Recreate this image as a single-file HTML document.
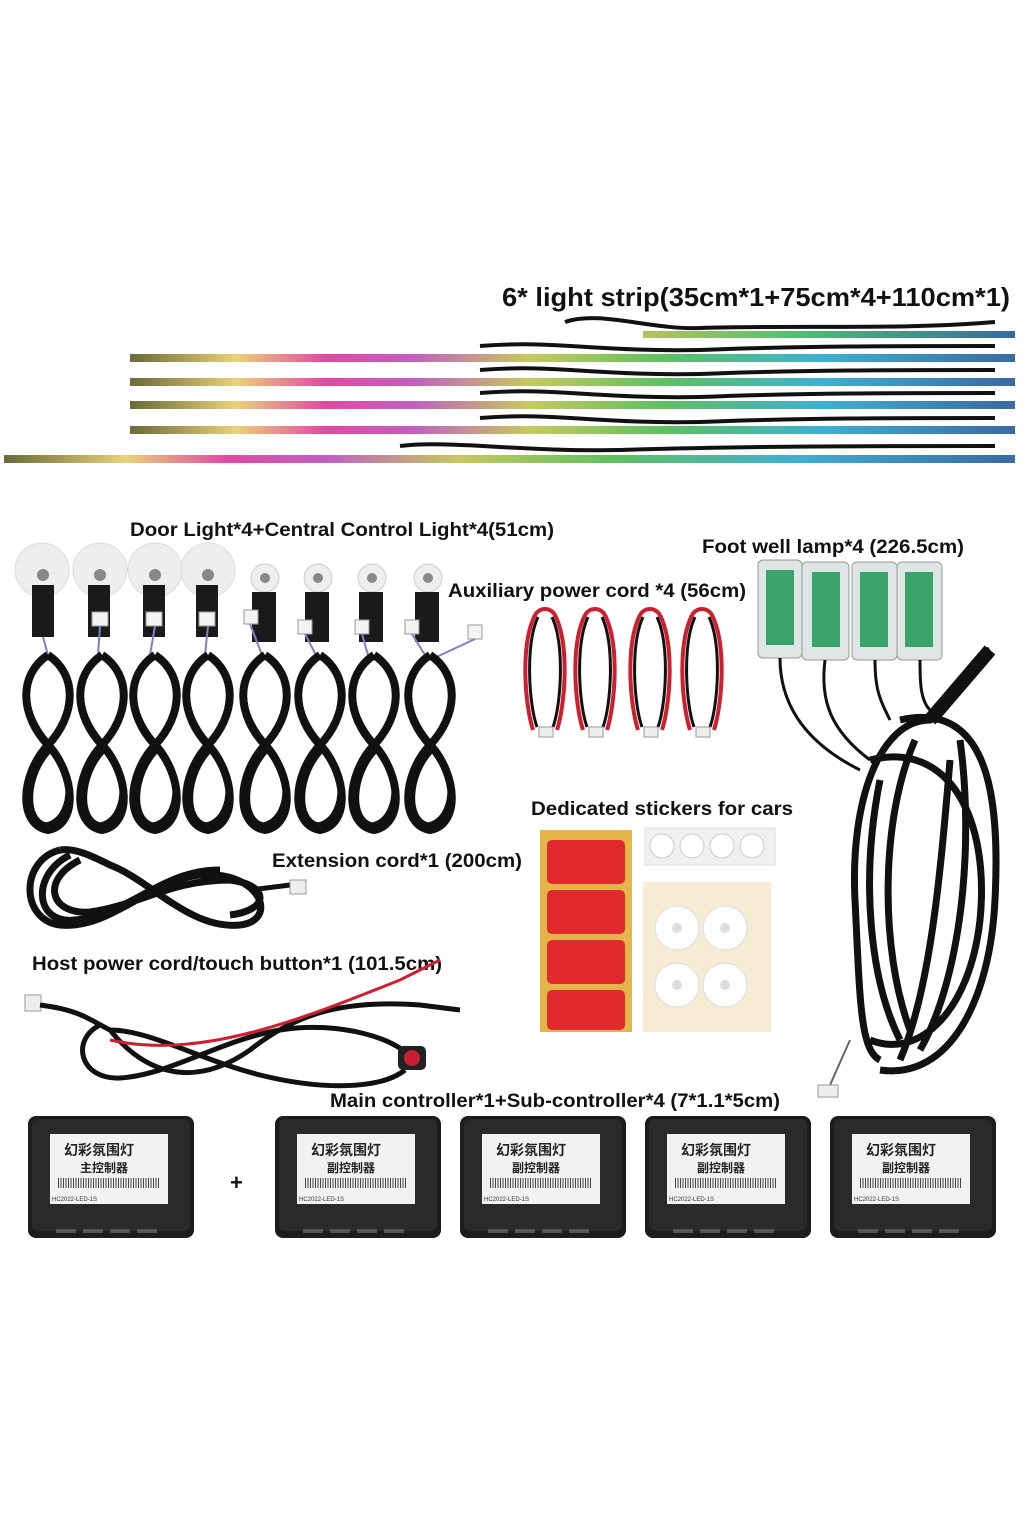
<!DOCTYPE html>
<html><head><meta charset="utf-8"><style>
html,body{margin:0;padding:0;background:#fff}
svg{display:block}
.t{font-family:"Liberation Sans",sans-serif;font-weight:bold;fill:#111}
.c{font-family:"Liberation Sans","Noto Sans CJK SC",sans-serif;font-weight:bold;fill:#222}
</style></head><body>
<svg width="1024" height="1536" viewBox="0 0 1024 1536" xmlns="http://www.w3.org/2000/svg">
<defs>
<linearGradient id="rb" x1="0" x2="1">
<stop offset="0" stop-color="#6a6a3a"/><stop offset="0.12" stop-color="#e8d27a"/><stop offset="0.22" stop-color="#e04aa0"/><stop offset="0.32" stop-color="#c060c0"/><stop offset="0.45" stop-color="#c8c860"/><stop offset="0.6" stop-color="#60c060"/><stop offset="0.78" stop-color="#40b0d0"/><stop offset="1" stop-color="#3a6aa0"/>
</linearGradient>
<linearGradient id="rs" x1="0" x2="1">
<stop offset="0" stop-color="#b8c060"/><stop offset="0.4" stop-color="#50c070"/><stop offset="1" stop-color="#3a6aa0"/>
</linearGradient>
<g id="loop"><path d="M0,0 C-30,20 -28,60 0,90 C28,120 30,170 0,175 C-30,170 -28,120 0,90 C28,60 30,20 0,0" fill="none" stroke="#111" stroke-width="8"/><path d="M-4,4 C-30,26 -24,62 4,92 C28,120 24,165 -2,170 C-24,165 -22,120 2,95" fill="none" stroke="#111" stroke-width="5"/></g>
<g id="red"><path d="M-10,0 C-25,30 -20,90 -12,115 M10,0 C25,30 20,90 12,115 M-10,0 C-5,-8 5,-8 10,0" fill="none" stroke="#cc2030" stroke-width="4"/><path d="M-7,2 C-20,30 -16,90 -8,112 M7,2 C20,30 16,90 8,112" fill="none" stroke="#111" stroke-width="3"/><rect x="-6" y="112" width="14" height="10" fill="#eee" stroke="#999"/></g>
<g id="ctrl"><rect x="0" y="0" width="166" height="122" rx="8" fill="#1c1c1c"/><rect x="4" y="3" width="158" height="112" rx="6" fill="#2a2a2a"/><rect x="22" y="18" width="118" height="70" fill="#f2f2f2"/><line x1="30" y1="67" x2="132" y2="67" stroke="#444" stroke-width="10" stroke-dasharray="1 1.5"/>
<g fill="#555"><rect x="28" y="113" width="20" height="4"/><rect x="55" y="113" width="20" height="4"/><rect x="82" y="113" width="20" height="4"/><rect x="109" y="113" width="20" height="4"/></g></g>
</defs>

<text class="t" x="502" y="306" font-size="26" textLength="508" lengthAdjust="spacingAndGlyphs">6* light strip(35cm*1+75cm*4+110cm*1)</text>

<path d="M565,322 C600,310 650,330 700,328 C800,325 900,330 995,322" fill="none" stroke="#111" stroke-width="4"/>
<rect x="643" y="331" width="372" height="7" fill="url(#rs)"/>
<g>
<rect x="130" y="354" width="885" height="8" fill="url(#rb)"/>
<rect x="130" y="378" width="885" height="8" fill="url(#rb)"/>
<rect x="130" y="401" width="885" height="8" fill="url(#rb)"/>
<rect x="130" y="426" width="885" height="8" fill="url(#rb)"/>
<rect x="4" y="455" width="1011" height="8" fill="url(#rb)"/>
<g fill="none" stroke="#111" stroke-width="4">
<path d="M480,346 C550,340 600,352 700,350 C800,346 900,346 995,346"/>
<path d="M480,370 C550,364 600,376 700,374 C800,370 900,370 995,370"/>
<path d="M480,393 C550,387 600,399 700,397 C800,393 900,393 995,393"/>
<path d="M480,418 C550,412 600,424 700,422 C800,418 900,418 995,418"/>
<path d="M400,446 C450,440 520,452 620,450 C750,446 880,446 995,446"/>
</g></g>

<text class="t" x="130" y="536" font-size="19" textLength="424" lengthAdjust="spacingAndGlyphs">Door Light*4+Central Control Light*4(51cm)</text>
<text class="t" x="702" y="553" font-size="19" textLength="262" lengthAdjust="spacingAndGlyphs">Foot well lamp*4 (226.5cm)</text>
<text class="t" x="448" y="597" font-size="19" textLength="298" lengthAdjust="spacingAndGlyphs">Auxiliary power cord *4 (56cm)</text>

<g>
<circle cx="42" cy="570" r="27" fill="#eee" stroke="#ddd"/><circle cx="100" cy="570" r="27" fill="#eee" stroke="#ddd"/><circle cx="155" cy="570" r="27" fill="#eee" stroke="#ddd"/><circle cx="208" cy="570" r="27" fill="#eee" stroke="#ddd"/>
<circle cx="265" cy="578" r="14" fill="#eee" stroke="#ccc"/><circle cx="318" cy="578" r="14" fill="#eee" stroke="#ccc"/><circle cx="372" cy="578" r="14" fill="#eee" stroke="#ccc"/><circle cx="428" cy="578" r="14" fill="#eee" stroke="#ccc"/>
<g fill="#1a1a1a">
<rect x="32" y="585" width="22" height="52"/><rect x="88" y="585" width="22" height="52"/><rect x="143" y="585" width="22" height="52"/><rect x="196" y="585" width="22" height="52"/>
<rect x="252" y="592" width="24" height="50"/><rect x="305" y="592" width="24" height="50"/><rect x="359" y="592" width="24" height="50"/><rect x="415" y="592" width="24" height="50"/></g>
<g fill="#888"><circle cx="43" cy="575" r="6"/><circle cx="100" cy="575" r="6"/><circle cx="155" cy="575" r="6"/><circle cx="208" cy="575" r="6"/><circle cx="265" cy="578" r="5"/><circle cx="318" cy="578" r="5"/><circle cx="372" cy="578" r="5"/><circle cx="428" cy="578" r="5"/></g>
<g fill="#f4f4f4" stroke="#999"><rect x="92" y="612" width="16" height="14"/><rect x="146" y="612" width="16" height="14"/><rect x="199" y="612" width="16" height="14"/><rect x="244" y="610" width="14" height="14"/><rect x="298" y="620" width="14" height="14"/><rect x="355" y="620" width="14" height="14"/><rect x="405" y="620" width="14" height="14"/><rect x="468" y="625" width="14" height="14"/></g>
<g fill="none" stroke="#8080c0" stroke-width="2"><path d="M43,637 L48,655"/><path d="M100,626 L98,655"/><path d="M155,626 L150,655"/><path d="M208,626 L205,655"/><path d="M250,624 L262,655"/><path d="M305,634 L316,655"/><path d="M362,634 L368,655"/><path d="M412,634 L425,655"/><path d="M475,639 L430,660"/></g>
<use href="#loop" x="48" y="655"/><use href="#loop" x="102" y="655"/><use href="#loop" x="155" y="655"/><use href="#loop" x="208" y="655"/><use href="#loop" x="265" y="655"/><use href="#loop" x="320" y="655"/><use href="#loop" x="374" y="655"/><use href="#loop" x="430" y="655"/>
</g>

<use href="#red" x="545" y="615"/><use href="#red" x="595" y="615"/><use href="#red" x="650" y="615"/><use href="#red" x="702" y="615"/>

<g>
<rect x="758" y="560" width="44" height="98" rx="5" fill="#dfe4e4" stroke="#999"/><rect x="802" y="562" width="47" height="98" rx="5" fill="#dfe4e4" stroke="#999"/><rect x="852" y="562" width="45" height="98" rx="5" fill="#dfe4e4" stroke="#999"/><rect x="897" y="562" width="45" height="98" rx="5" fill="#dfe4e4" stroke="#999"/>
<rect x="766" y="570" width="28" height="75" fill="#3aa36a"/><rect x="812" y="572" width="28" height="75" fill="#3aa36a"/><rect x="860" y="572" width="28" height="75" fill="#3aa36a"/><rect x="905" y="572" width="28" height="75" fill="#3aa36a"/>
<g fill="none" stroke="#111" stroke-width="3"><path d="M780,658 C780,700 800,740 860,770"/><path d="M825,660 C820,700 830,730 870,760"/><path d="M875,660 C875,690 880,700 890,720"/><path d="M920,660 C920,680 920,700 930,710"/></g>
<path d="M990,650 C970,660 950,700 930,720 C880,720 850,800 855,900 C860,1000 860,1050 880,1060 M900,720 C990,700 1000,800 995,900 C990,1000 950,1080 880,1070 M870,760 C950,740 990,820 980,920 C970,1010 920,1060 870,1040 M880,780 C860,880 870,980 900,1040 M950,760 C940,880 930,990 900,1060 M915,740 C880,820 880,950 910,1030 M960,740 C975,850 960,980 920,1050" fill="none" stroke="#111" stroke-width="7"/>
<path d="M930,720 L990,650" stroke="#111" stroke-width="14"/>
<path d="M850,1040 L830,1085" stroke="#666" stroke-width="2"/><rect x="818" y="1085" width="20" height="12" fill="#eee" stroke="#999"/>
</g>

<text class="t" x="531" y="815" font-size="19" textLength="262" lengthAdjust="spacingAndGlyphs">Dedicated stickers for cars</text>
<rect x="540" y="830" width="92" height="202" fill="#e6b54a"/>
<g fill="#e02a30"><rect x="547" y="840" width="78" height="44" rx="5"/><rect x="547" y="890" width="78" height="44" rx="5"/><rect x="547" y="940" width="78" height="44" rx="5"/><rect x="547" y="990" width="78" height="40" rx="5"/></g>
<rect x="645" y="828" width="130" height="37" fill="#f0f0f0" stroke="#ddd"/>
<g fill="#fff" stroke="#ccc"><circle cx="662" cy="846" r="12"/><circle cx="692" cy="846" r="12"/><circle cx="722" cy="846" r="12"/><circle cx="752" cy="846" r="12"/></g>
<rect x="643" y="882" width="128" height="150" fill="#f5ecd3"/>
<g fill="#fdfdfd" stroke="#ddd"><circle cx="677" cy="928" r="22"/><circle cx="725" cy="928" r="22"/><circle cx="677" cy="985" r="22"/><circle cx="725" cy="985" r="22"/></g>
<g fill="#ddd"><circle cx="677" cy="928" r="5"/><circle cx="725" cy="928" r="5"/><circle cx="677" cy="985" r="5"/><circle cx="725" cy="985" r="5"/></g>

<text class="t" x="272" y="867" font-size="19" textLength="250" lengthAdjust="spacingAndGlyphs">Extension cord*1 (200cm)</text>
<path d="M60,850 C20,860 20,920 60,925 C110,930 150,880 200,875 C260,870 280,920 240,925 C190,930 150,880 110,865 C90,855 75,848 60,850 M80,860 C40,880 50,915 90,912 C140,905 170,880 230,880 C270,885 270,910 230,915 M70,855 C30,875 35,925 75,920 C130,915 160,870 220,870" fill="none" stroke="#111" stroke-width="7"/>
<path d="M250,890 L290,885" stroke="#111" stroke-width="5"/><rect x="290" y="880" width="16" height="14" fill="#eee" stroke="#999"/>

<text class="t" x="32" y="970" font-size="19" textLength="410" lengthAdjust="spacingAndGlyphs">Host power cord/touch button*1 (101.5cm)</text>
<rect x="25" y="995" width="16" height="16" fill="#eee" stroke="#999"/>
<path d="M40,1005 C80,1010 90,1020 110,1030 C150,1080 200,1085 250,1050 C300,1010 350,1000 420,1005 L460,1010 M100,1025 C70,1040 80,1080 120,1078 C170,1075 220,1040 280,1030 C340,1020 400,1040 410,1058 M110,1030 C150,1030 200,1060 260,1075 C320,1090 380,1090 405,1070" fill="none" stroke="#111" stroke-width="5"/>
<path d="M110,1040 C200,1060 300,1020 400,980 L440,960" fill="none" stroke="#cc2030" stroke-width="3"/>
<rect x="398" y="1046" width="28" height="24" rx="5" fill="#222"/><circle cx="412" cy="1058" r="8" fill="#c82030"/>

<text class="t" x="330" y="1107" font-size="19" textLength="450" lengthAdjust="spacingAndGlyphs">Main controller*1+Sub-controller*4 (7*1.1*5cm)</text>
<use href="#ctrl" x="28" y="1116"/><use href="#ctrl" x="275" y="1116"/><use href="#ctrl" x="460" y="1116"/><use href="#ctrl" x="645" y="1116"/><use href="#ctrl" x="830" y="1116"/>
<g class="c" font-size="14">
<text x="64" y="1155">幻彩氛围灯</text><text x="80" y="1172" font-size="12">主控制器</text>
<text x="311" y="1155">幻彩氛围灯</text><text x="327" y="1172" font-size="12">副控制器</text>
<text x="496" y="1155">幻彩氛围灯</text><text x="512" y="1172" font-size="12">副控制器</text>
<text x="681" y="1155">幻彩氛围灯</text><text x="697" y="1172" font-size="12">副控制器</text>
<text x="866" y="1155">幻彩氛围灯</text><text x="882" y="1172" font-size="12">副控制器</text>
</g>
<g font-family="Liberation Sans" font-size="6" fill="#333"><text x="52" y="1201">HC2022-LED-1S</text><text x="299" y="1201">HC2022-LED-1S</text><text x="484" y="1201">HC2022-LED-1S</text><text x="669" y="1201">HC2022-LED-1S</text><text x="854" y="1201">HC2022-LED-1S</text></g>
<text x="230" y="1190" font-family="Liberation Sans" font-weight="bold" font-size="22" fill="#111">+</text>
</svg>
</body></html>
